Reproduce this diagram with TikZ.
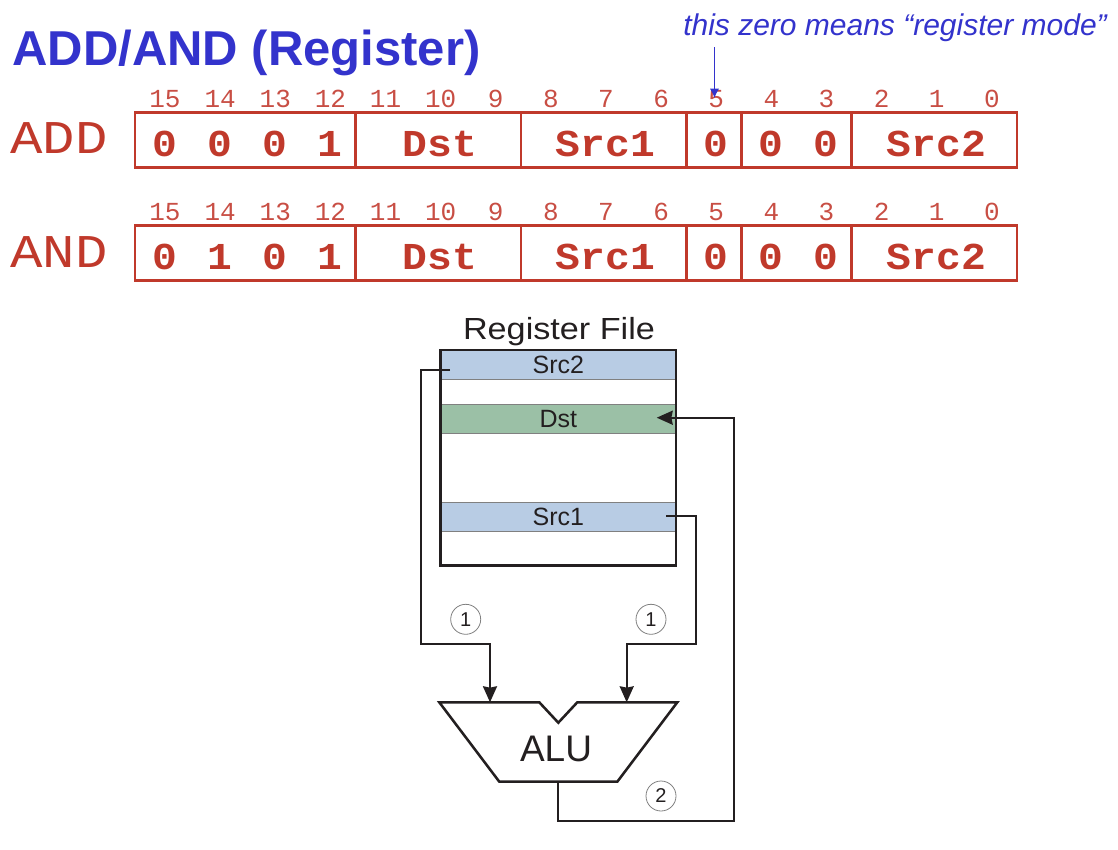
\documentclass[tikz,border=0pt]{standalone}
\usepackage{fontspec}
\setmainfont{Liberation Sans}
\newfontfamily\monofont{Liberation Mono}
\usetikzlibrary{arrows.meta}
\definecolor{titleblue}{RGB}{51,51,204}
\definecolor{instrred}{RGB}{192,57,43}
\definecolor{numred}{RGB}{200,78,68}
\definecolor{regblue}{RGB}{184,204,228}
\definecolor{reggreen}{RGB}{155,192,166}
\definecolor{inkc}{RGB}{35,31,32}
\newcommand\setfs[1]{\fontsize{#1}{#1}\selectfont}
\newcommand\vsq[2]{\scalebox{1}[#1]{#2}}
\begin{document}
\begin{tikzpicture}[x=0.75pt,y=-0.75pt,
  field/.style={draw=instrred, line width=1.9pt, inner sep=0pt, minimum height=41.25pt},
  bitnum/.style={text=numred, font=\monofont\setfs{19.5}, inner sep=0pt, anchor=base},
  bitval/.style={text=instrred, font=\monofont\bfseries\setfs{31}, inner sep=0pt, anchor=base},
  mnem/.style={text=instrred, font=\monofont\setfs{40.5}, inner sep=0pt, anchor=base west},
  regrow/.style={draw=gray, line width=0.6pt, inner sep=0pt, minimum width=176.5pt, minimum height=22pt, font=\setfs{18.75}, text=inkc},
  regbox/.style={draw=inkc, line width=1.9pt, inner sep=0pt, minimum width=176.5pt, minimum height=161.8pt},
  wire/.style={draw=inkc, line width=1.6pt},
  wirearrow/.style={wire, -{Stealth[length=12pt,width=10.5pt,inset=1pt]}},
  stepmark/.style={circle, draw=gray, line width=0.6pt, minimum size=22.5pt, inner sep=0pt, font=\setfs{15}, text=inkc},
  notearrow/.style={draw=titleblue, line width=1pt, -{Latex[length=7pt,width=7pt]}}
]
\useasboundingbox (0,0) rectangle (1118,850);

% title and note
\node[anchor=base west, inner sep=0pt, text=titleblue, font=\bfseries\setfs{36.75}] (title) at (12,65) {ADD/AND (Register)};
\node[anchor=base west, inner sep=0pt, text=titleblue, font=\itshape\setfs{22.5}] (note) at (683,35) {this zero means “register mode”};

% instruction rows
\foreach \r/\top/\op/\nm in {add/112/{0,0,0,1}/ADD, and/225.5/{0,1,0,1}/AND}{
  \pgfmathsetmacro\cy{\top+27.75}
  \pgfmathsetmacro\nb{\top-5}
  \pgfmathsetmacro\vb{\top+44}
  \node[mnem] (\r-name) at (10,\top+41.5) {\vsq{0.87}{\nm}};
  \node[field, minimum width=165.375pt] (\r-op)   at (245.25,\cy) {};
  \node[field, minimum width=124.03pt]  (\r-dst)  at (438.19,\cy) {};
  \node[field, minimum width=124.03pt]  (\r-src1) at (603.56,\cy) {};
  \node[field, minimum width=41.34pt]   (\r-mode) at (713.81,\cy) {};
  \node[field, minimum width=82.69pt]   (\r-pad)  at (796.5,\cy) {};
  \node[field, minimum width=124.03pt]  (\r-src2) at (934.31,\cy) {};
  \foreach \i in {0,...,15}{
    \node[bitnum] (\r-n\i) at ({165+(15-\i)*55.125},\nb) {\i};
  }
  \foreach \v [count=\k from 0] in \op {
    \node[bitval] (\r-v\k) at ({165+\k*55.125},\vb) {\vsq{0.92}{\v}};
  }
  \node[bitval] (\r-t-dst) at (440,\vb) {\vsq{0.92}{Dst}};
  \node[bitval] (\r-t-src1) at (605.5,\vb) {\vsq{0.92}{Src1}};
  \node[bitval] (\r-t-mode) at (716.2,\vb) {\vsq{0.92}{0}};
  \node[bitval] (\r-t-p4) at (771.2,\vb) {\vsq{0.92}{0}};
  \node[bitval] (\r-t-p3) at (826.3,\vb) {\vsq{0.92}{0}};
  \node[bitval] (\r-t-src2) at (936.5,\vb) {\vsq{0.92}{Src2}};
}
\coordinate (notestart) at (714.5,47);
\coordinate (notetip) at (714.5,98);
\draw[notearrow] (notestart) -- (notetip);

% register file
\node[anchor=base, inner sep=0pt, font=\setfs{22.9}, text=inkc] (rftitle) at (559,339) {\scalebox{1.12}[1]{Register File}};
\node[regrow, fill=regblue] (src2) at (558.35,364.65) {Src2};
\node[regrow, fill=reggreen] (dst) at (558.35,418.65) {Dst};
\node[regrow, fill=regblue] (src1) at (558.35,517) {Src1};
\node[regbox] (regfile) at (558.35,457.85) {};

% ALU
\draw[draw=inkc, line width=1.9pt, line join=miter]
  (439.3,702.3) -- (539.3,702.3) -- (558.3,722.7) -- (577.3,702.3) -- (677.3,702.3)
  -- (617.3,781.7) -- (499.3,781.7) -- cycle;
\node[anchor=base, inner sep=0pt, font=\setfs{27.75}, text=inkc] (alu) at (556,761.7) {ALU};
\coordinate (aluinL) at (490,702.3);
\coordinate (aluinR) at (626.7,702.3);
\coordinate (aluout) at (558.3,781.7);
\coordinate (s2out) at (450,370);
\coordinate (s1out) at (666,516);
\coordinate (dstin) at (656.7,417.7);

% wires
\draw[wirearrow] (s2out) -- (421,370) -- (421,644.3) -- (490,644.3) -- (aluinL);
\draw[wirearrow] (s1out) -- (696,516) -- (696,644.3) -- (626.7,644.3) -- (aluinR);
\draw[wirearrow] (aluout) -- (558.3,820.7) -- (734.3,820.7) -- (734.3,417.7) -- (dstin);

% step marks
\node[stepmark] (stepL) at (465.7,619.3) {1};
\node[stepmark] (stepR) at (651,619.3) {1};
\node[stepmark] (stepO) at (661,796) {2};
\end{tikzpicture}
\end{document}
